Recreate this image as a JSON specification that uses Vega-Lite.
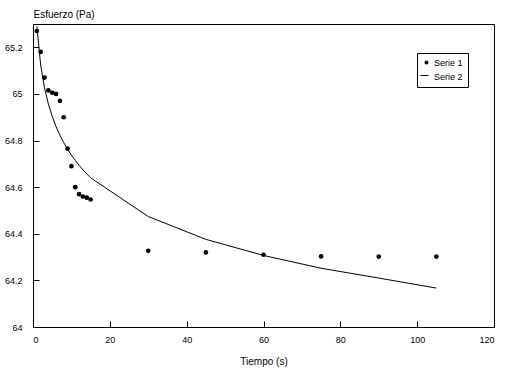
{
  "$schema": "https://vega.github.io/schema/vega-lite/v6.json",
  "width": 461,
  "height": 303,
  "autosize": {"type": "none"},
  "padding": {"left": 33, "top": 24, "right": 32, "bottom": 44},
  "background": "white",
  "config": {
    "view": {"stroke": "black", "strokeWidth": 1},
    "font": "Liberation Sans",
    "axis": {
      "grid": false,
      "domainColor": "black",
      "tickColor": "black",
      "tickSize": -6,
      "labelFont": "Liberation Sans",
      "labelFontSize": 9,
      "labelColor": "black",
      "titleFont": "Liberation Sans",
      "titleFontSize": 10,
      "titleFontWeight": "normal",
      "titleColor": "black"
    }
  },
  "data": {
    "values": [
      {"t": 1, "v": 65.27, "serie": "Serie 1"},
      {"t": 2, "v": 65.18, "serie": "Serie 1"},
      {"t": 3, "v": 65.07, "serie": "Serie 1"},
      {"t": 4, "v": 65.015, "serie": "Serie 1"},
      {"t": 5, "v": 65.005, "serie": "Serie 1"},
      {"t": 6, "v": 65.0, "serie": "Serie 1"},
      {"t": 7, "v": 64.97, "serie": "Serie 1"},
      {"t": 8, "v": 64.9, "serie": "Serie 1"},
      {"t": 9, "v": 64.765, "serie": "Serie 1"},
      {"t": 10, "v": 64.69, "serie": "Serie 1"},
      {"t": 11, "v": 64.6, "serie": "Serie 1"},
      {"t": 12, "v": 64.57, "serie": "Serie 1"},
      {"t": 13, "v": 64.56, "serie": "Serie 1"},
      {"t": 14, "v": 64.555, "serie": "Serie 1"},
      {"t": 15, "v": 64.547, "serie": "Serie 1"},
      {"t": 30, "v": 64.327, "serie": "Serie 1"},
      {"t": 45, "v": 64.32, "serie": "Serie 1"},
      {"t": 60, "v": 64.31, "serie": "Serie 1"},
      {"t": 75, "v": 64.303, "serie": "Serie 1"},
      {"t": 90, "v": 64.302, "serie": "Serie 1"},
      {"t": 105, "v": 64.302, "serie": "Serie 1"},
      {"t": 1, "v": 65.29, "serie": "Serie 2"},
      {"t": 2, "v": 65.124, "serie": "Serie 2"},
      {"t": 3, "v": 65.026, "serie": "Serie 2"},
      {"t": 4, "v": 64.957, "serie": "Serie 2"},
      {"t": 5, "v": 64.904, "serie": "Serie 2"},
      {"t": 6, "v": 64.86, "serie": "Serie 2"},
      {"t": 7, "v": 64.823, "serie": "Serie 2"},
      {"t": 8, "v": 64.791, "serie": "Serie 2"},
      {"t": 9, "v": 64.763, "serie": "Serie 2"},
      {"t": 10, "v": 64.737, "serie": "Serie 2"},
      {"t": 11, "v": 64.715, "serie": "Serie 2"},
      {"t": 12, "v": 64.694, "serie": "Serie 2"},
      {"t": 13, "v": 64.674, "serie": "Serie 2"},
      {"t": 14, "v": 64.657, "serie": "Serie 2"},
      {"t": 15, "v": 64.64, "serie": "Serie 2"},
      {"t": 30, "v": 64.474, "serie": "Serie 2"},
      {"t": 45, "v": 64.376, "serie": "Serie 2"},
      {"t": 60, "v": 64.307, "serie": "Serie 2"},
      {"t": 75, "v": 64.252, "serie": "Serie 2"},
      {"t": 90, "v": 64.21, "serie": "Serie 2"},
      {"t": 105, "v": 64.167, "serie": "Serie 2"}
    ]
  },
  "encoding": {
    "x": {
      "field": "t",
      "type": "quantitative",
      "scale": {"domain": [0, 120], "nice": false, "zero": false},
      "axis": {
        "title": "Tiempo (s)",
        "values": [0, 20, 40, 60, 80, 100, 120],
        "format": "~r",
        "labelPadding": 14,
        "titlePadding": 12
      }
    },
    "y": {
      "field": "v",
      "type": "quantitative",
      "scale": {"domain": [64, 65.3], "nice": false, "zero": false},
      "axis": {
        "title": "Esfuerzo (Pa)",
        "values": [64, 64.2, 64.4, 64.6, 64.8, 65, 65.2],
        "format": "~r",
        "labelPadding": 17,
        "titleAngle": 0,
        "titleAlign": "left",
        "titleBaseline": "bottom",
        "titleX": 0,
        "titleY": -5
      }
    }
  },
  "layer": [
    {
      "transform": [{"filter": "datum.serie == 'Serie 2'"}],
      "mark": {"type": "line", "strokeWidth": 1, "clip": true},
      "encoding": {
        "color": {
          "datum": "Serie 2",
          "scale": {"domain": ["Serie 2"], "range": ["black"]},
          "legend": {
            "title": null,
            "orient": "none",
            "legendX": 387,
            "legendY": 47,
            "padding": 0,
            "labelOpacity": 0,
            "labelFontSize": 9,
            "symbolSize": 64,
            "symbolStrokeWidth": 1,
            "symbolType": "stroke"
          }
        }
      }
    },
    {
      "transform": [{"filter": "datum.serie == 'Serie 1'"}],
      "mark": {"type": "point", "filled": true, "color": "black", "size": 22, "opacity": 1},
      "encoding": {
        "shape": {
          "field": "serie",
          "type": "nominal",
          "scale": {"domain": ["Serie 1", "Serie 2"], "range": ["circle", "M-2,0H2"]},
          "legend": {
            "title": null,
            "orient": "none",
            "legendX": 384,
            "legendY": 29,
            "strokeColor": "black",
            "padding": 5,
            "rowPadding": 4,
            "labelFont": "Liberation Sans",
            "labelFontSize": 9,
            "labelColor": "black",
            "labelOffset": 3,
            "symbolSize": 16
          }
        }
      }
    }
  ]
}
